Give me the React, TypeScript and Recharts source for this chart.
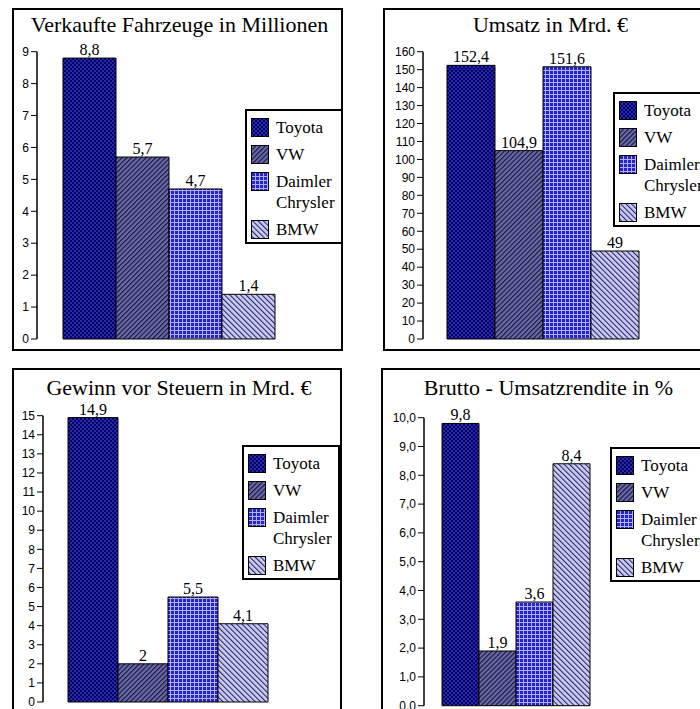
import { BarChart, Bar, XAxis, YAxis, Legend, LabelList } from 'recharts';

const seriesKeys = ['toyota', 'vw', 'dc', 'bmw'];
const seriesNames = ['Toyota', 'VW', 'Daimler Chrysler', 'BMW'];

const fahrzeuge = [8.8, 5.7, 4.7, 1.4];
const umsatz = [152.4, 104.9, 151.6, 49];
const gewinn = [14.9, 2, 5.5, 4.1];
const rendite = [9.8, 1.9, 3.6, 8.4];

const fahrzeugeTicks = [0, 1, 2, 3, 4, 5, 6, 7, 8, 9];
const umsatzTicks = [0, 10, 20, 30, 40, 50, 60, 70, 80, 90, 100, 110, 120, 130, 140, 150, 160];
const gewinnTicks = [0, 1, 2, 3, 4, 5, 6, 7, 8, 9, 10, 11, 12, 13, 14, 15];
const renditeTicks = [0, 1, 2, 3, 4, 5, 6, 7, 8, 9, 10];

const SERIF = "'Liberation Serif', 'Times New Roman', Times, serif";
const SANS = "'Liberation Sans', Arial, sans-serif";

const comma = (v: any) => String(v).replace('.', ',');
const commaFixed = (v: any) => Number(v).toFixed(1).replace('.', ',');

const Patterns = () => (
  <svg width={0} height={0} style={{ position: 'absolute' }}>
    <defs>
      <pattern id="pat-toyota" width={4} height={4} patternUnits="userSpaceOnUse">
        <rect width={4} height={4} fill="#000068" />
        <rect width={2} height={2} fill="#2a2aa4" />
        <rect x={2} y={2} width={2} height={2} fill="#2a2aa4" />
      </pattern>
      <pattern id="pat-vw" width={3.4} height={4} patternUnits="userSpaceOnUse" patternTransform="rotate(45)">
        <rect width={3.4} height={4} fill="#6c6caa" />
        <rect width={1.2} height={4} fill="#16163e" />
      </pattern>
      <pattern id="pat-dc" width={4} height={4} patternUnits="userSpaceOnUse">
        <rect width={4} height={4} fill="#2424c8" />
        <rect width={4} height={1} fill="#aeaef2" />
        <rect width={1} height={4} fill="#aeaef2" />
      </pattern>
      <pattern id="pat-bmw" width={3.8} height={4} patternUnits="userSpaceOnUse" patternTransform="rotate(-45)">
        <rect width={3.8} height={4} fill="#ccccfa" />
        <rect width={1.1} height={4} fill="#2a2a55" />
      </pattern>
    </defs>
  </svg>
);

const LegendBox = ({ payload }: any) => {
  const items = [...(payload || [])].sort(
    (a: any, b: any) => seriesKeys.indexOf(a.dataKey) - seriesKeys.indexOf(b.dataKey)
  );
  return (
    <div
      style={{
        border: '2px solid #000',
        background: '#fff',
        boxSizing: 'border-box',
        width: 98,
        padding: '6px 2px 2px 4px',
        fontFamily: SERIF,
        fontSize: 17,
        color: '#000',
      }}
    >
      {items.map((e: any, i: number) => (
        <div key={e.dataKey} style={{ display: 'flex', alignItems: 'flex-start', marginBottom: i < items.length - 1 ? 6 : 0 }}>
          <svg width={18} height={19} style={{ flex: 'none', marginTop: 1 }}>
            <rect x={0.5} y={0.5} width={17} height={18} fill={`url(#pat-${e.dataKey})`} stroke="#000" />
          </svg>
          <span style={{ marginLeft: 7, lineHeight: '21px', fontFamily: SERIF }}>{e.value}</span>
        </div>
      ))}
    </div>
  );
};

type PanelProps = {
  box: { left: number; top: number; width: number; height: number };
  plot: { x0: number; x1: number; y0: number; y1: number };
  title: string;
  titleTop: number;
  values: number[];
  ticks: number[];
  tickFmt: (v: any) => string;
  gap: number;
  legend: { left: number; top: number };
};

function Panel({ box, plot, title, titleTop, values, ticks, tickFmt, gap, legend }: PanelProps) {
  const innerLeft = box.left + 2;
  const innerTop = box.top + 2;
  const w = box.width - 4;
  const h = box.height - 4;
  const xAxisH = 6;
  const margin = {
    left: 1,
    right: innerLeft + w - plot.x1,
    top: plot.y0 - innerTop,
    bottom: innerTop + h - plot.y1 - xAxisH,
  };
  const row: any = { name: title };
  seriesKeys.forEach((k, i) => (row[k] = values[i]));

  return (
    <div
      style={{
        position: 'absolute',
        left: box.left,
        top: box.top,
        width: box.width,
        height: box.height,
        border: '2px solid #000',
        boxSizing: 'border-box',
        background: '#fff',
      }}
    >
      <div
        style={{
          position: 'absolute',
          left: 4,
          right: 0,
          top: titleTop,
          textAlign: 'center',
          fontFamily: SERIF,
          fontSize: 22,
          lineHeight: '24px',
          whiteSpace: 'nowrap',
          color: '#000',
        }}
      >
        {title}
      </div>
      <div style={{ position: 'absolute', left: 0, top: 0 }}>
        <BarChart width={w} height={h} data={[row]} margin={margin} barGap={0} barCategoryGap={gap}>
          <XAxis xAxisId="cat" dataKey="name" hide />
          <XAxis
            xAxisId="frame"
            type="number"
            domain={[0, 1]}
            allowDataOverflow
            ticks={[0, 1]}
            tick={false}
            tickSize={5}
            height={xAxisH}
            axisLine={{ stroke: '#000', strokeWidth: 1.5 }}
            tickLine={{ stroke: '#000', strokeWidth: 1.5 }}
          />
          <YAxis
            type="number"
            domain={[0, ticks[ticks.length - 1]]}
            ticks={ticks}
            interval={0}
            width={plot.x0 - innerLeft - 1}
            tickFormatter={tickFmt}
            tickSize={6}
            tick={{ fill: '#000', fontSize: 12, fontFamily: SANS }}
            axisLine={{ stroke: '#000', strokeWidth: 1.5 }}
            tickLine={{ stroke: '#000' }}
          />
          {seriesKeys.map((k, i) => (
            <Bar
              key={k}
              xAxisId="cat"
              dataKey={k}
              name={seriesNames[i]}
              fill={`url(#pat-${k})`}
              stroke="#000"
              strokeWidth={1}
              isAnimationActive={false}
            >
              <LabelList
                dataKey={k}
                position="top"
                offset={3}
                formatter={comma}
                fill="#000"
                fontSize={16}
                fontFamily={SERIF}
              />
            </Bar>
          ))}
          <Legend
            layout="vertical"
            align="center"
            verticalAlign="middle"
            wrapperStyle={{ left: legend.left, top: legend.top, width: 98 }}
            content={LegendBox}
          />
        </BarChart>
      </div>
    </div>
  );
}

export default function App() {
  return (
    <div style={{ position: 'absolute', left: 0, top: 0, width: 700, height: 709, overflow: 'hidden', background: '#fff' }}>
      <Patterns />
      <Panel
        box={{ left: 12, top: 8, width: 331, height: 343 }}
        plot={{ x0: 37, x1: 301, y0: 51.7, y1: 339 }}
        title="Verkaufte Fahrzeuge in Millionen"
        titleTop={3}
        values={fahrzeuge}
        ticks={fahrzeugeTicks}
        tickFmt={comma}
        gap={26}
        legend={{ left: 231, top: 99 }}
      />
      <Panel
        box={{ left: 383, top: 8, width: 331, height: 343 }}
        plot={{ x0: 423, x1: 662, y0: 51.7, y1: 339 }}
        title="Umsatz in Mrd. €"
        titleTop={3}
        values={umsatz}
        ticks={umsatzTicks}
        tickFmt={comma}
        gap={24}
        legend={{ left: 228, top: 82 }}
      />
      <Panel
        box={{ left: 12, top: 368, width: 330, height: 350 }}
        plot={{ x0: 43, x1: 291, y0: 415.7, y1: 702 }}
        title="Gewinn vor Steuern in Mrd. €"
        titleTop={6}
        values={gewinn}
        ticks={gewinnTicks}
        tickFmt={comma}
        gap={25}
        legend={{ left: 228, top: 75 }}
      />
      <Panel
        box={{ left: 381, top: 368, width: 331, height: 350 }}
        plot={{ x0: 424, x1: 609, y0: 417.7, y1: 705.7 }}
        title="Brutto - Umsatzrendite in %"
        titleTop={6}
        values={rendite}
        ticks={renditeTicks}
        tickFmt={commaFixed}
        gap={18}
        legend={{ left: 227, top: 77 }}
      />
    </div>
  );
}
